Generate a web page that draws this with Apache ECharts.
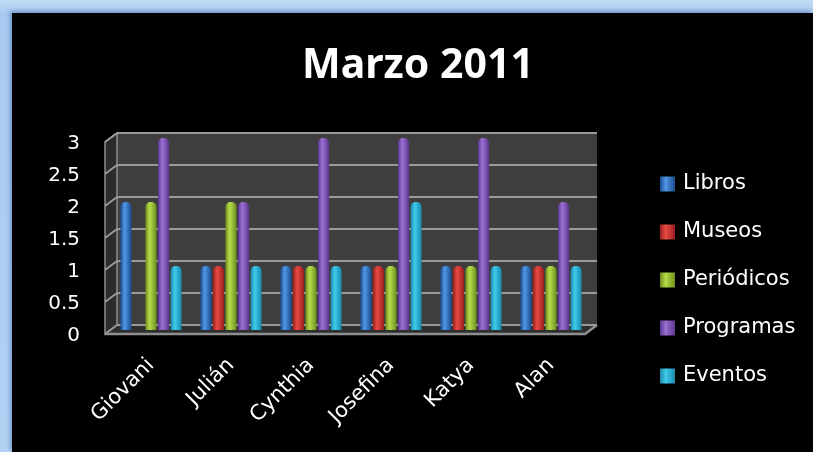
<!DOCTYPE html>
<html>
<head>
<meta charset="utf-8">
<script src="https://cdn.jsdelivr.net/npm/echarts@6/dist/echarts.min.js"></script>
<style>
  html, body { margin: 0; padding: 0; }
  body {
    width: 813px; height: 452px; overflow: hidden; position: relative;
    background: linear-gradient(180deg, #c3dcf7 0px, #a9cbf1 13px, #b3d2f4 100%);
  }
  #panel {
    position: absolute; left: 12px; top: 13px; right: 0; bottom: 0;
    background: #000;
    box-shadow: -2px -2px 4px rgba(60, 100, 160, 0.5);
  }
  #chart { position: absolute; left: 0; top: 0; width: 813px; height: 452px; }
</style>
</head>
<body>
<div id="panel"></div>
<div id="chart"></div>
<script>
// Monthly activity per person, March 2011
const categories = ['Giovani', 'Julián', 'Cynthia', 'Josefina', 'Katya', 'Alan'];
const libros     = [2, 1, 1, 1, 1, 1];
const museos     = [0, 1, 1, 1, 1, 1];
const periodicos = [2, 2, 1, 1, 1, 1];
const programas  = [3, 2, 3, 3, 3, 2];
const eventos    = [1, 1, 1, 2, 1, 1];
const yTicks     = [0, 0.5, 1, 1.5, 2, 2.5, 3];

// Plot frame (mid-depth plane where the bars stand)
const GRID = { left: 111, top: 138, width: 480, height: 192 };
// Pseudo-3D depth offsets for back wall and front edge
const BACK = { dx: 6, dy: -5 };
const FRONT = { dx: -6, dy: 4 };
const FONT = 'DejaVu Sans';

function cylinder(dark, light) {
  return new echarts.graphic.LinearGradient(0, 0, 1, 0, [
    { offset: 0, color: dark },
    { offset: 0.38, color: light },
    { offset: 1, color: dark }
  ]);
}

const seriesDefs = [
  { name: 'Libros',     data: libros,     dark: '#1c4c8e', light: '#4f97e6' },
  { name: 'Museos',     data: museos,     dark: '#9a1e1e', light: '#e84a44' },
  { name: 'Periódicos', data: periodicos, dark: '#6f8f1c', light: '#b6dc4a' },
  { name: 'Programas',  data: programas,  dark: '#5a3790', light: '#9c70d4' },
  { name: 'Eventos',    data: eventos,    dark: '#1b87a8', light: '#3fcbee' }
];

const chart = echarts.init(document.getElementById('chart'), null, { renderer: 'canvas' });

const option = {
  backgroundColor: 'transparent',
  animation: false,
  title: {
    text: 'Marzo 2011',
    left: 413,
    top: 41,
    textAlign: 'center',
    textStyle: { color: '#ffffff', fontFamily: 'Noto Sans', fontWeight: 'bold', fontSize: 41 }
  },
  legend: {
    orient: 'vertical',
    left: 660,
    top: 172,
    padding: 0,
    icon: 'rect',
    itemWidth: 15,
    itemHeight: 15,
    itemGap: 24,
    textStyle: { color: '#ffffff', fontFamily: FONT, fontSize: 21, lineHeight: 24, padding: [0, 0, 0, 3] },
    data: seriesDefs.map(s => s.name)
  },
  grid: Object.assign({}, GRID, { containLabel: false }),
  xAxis: {
    type: 'category',
    data: categories,
    axisLine: { show: false },
    axisTick: { show: false },
    axisLabel: {
      color: '#ffffff', fontFamily: FONT, fontSize: 21, rotate: 45, margin: 32, interval: 0
    }
  },
  yAxis: {
    type: 'value',
    min: 0, max: 3, interval: 0.5,
    axisLine: { show: false },
    axisTick: { show: false },
    splitLine: { show: false },
    axisLabel: {
      color: '#ffffff', fontFamily: FONT, fontSize: 20, margin: 31,
      verticalAlign: 'top', lineHeight: 11
    }
  },
  series: seriesDefs.map(s => ({
    name: s.name,
    type: 'bar',
    data: s.data,
    barWidth: 11,
    barGap: '14%',
    z: 5,
    itemStyle: { color: cylinder(s.dark, s.light), borderRadius: [5, 5, 0, 0] }
  }))
};

chart.setOption(option);

// Walls, floor and gridlines drawn around the bars to give the box its depth
function drawBox() {
  const L = GRID.left, R = GRID.left + GRID.width;
  const yOf = v => chart.convertToPixel({ yAxisIndex: 0 }, v);
  const y0 = yOf(0), yTop = yOf(3);
  const els = [];
  // back wall
  els.push({
    type: 'polygon', z: 0, silent: true,
    shape: { points: [[L + BACK.dx, yTop + BACK.dy], [R + BACK.dx, yTop + BACK.dy], [R + BACK.dx, y0 + BACK.dy], [L + BACK.dx, y0 + BACK.dy]] },
    style: { fill: '#3e3e3e' }
  });
  // left wall
  els.push({
    type: 'polygon', z: 0, silent: true,
    shape: { points: [[L + FRONT.dx, yTop + FRONT.dy], [L + BACK.dx, yTop + BACK.dy], [L + BACK.dx, y0 + BACK.dy], [L + FRONT.dx, y0 + FRONT.dy]] },
    style: { fill: '#2b2b2b', stroke: '#8f8f8f', lineWidth: 1.5 }
  });
  // floor
  els.push({
    type: 'polygon', z: 1, silent: true,
    shape: { points: [[L + FRONT.dx, y0 + FRONT.dy], [R + FRONT.dx, y0 + FRONT.dy], [R + BACK.dx, y0 + BACK.dy], [L + BACK.dx, y0 + BACK.dy]] },
    style: { fill: '#2e2e2e' }
  });
  // gridlines on back wall + left wall diagonals
  yTicks.forEach(v => {
    const y = yOf(v);
    els.push({
      type: 'line', z: 1, silent: true,
      shape: { x1: L + BACK.dx, y1: y + BACK.dy, x2: R + BACK.dx, y2: y + BACK.dy },
      style: { stroke: '#9a9a9a', lineWidth: 2 }
    });
    els.push({
      type: 'line', z: 1, silent: true,
      shape: { x1: L + FRONT.dx, y1: y + FRONT.dy, x2: L + BACK.dx, y2: y + BACK.dy },
      style: { stroke: '#9a9a9a', lineWidth: 2 }
    });
  });
  // floor front and right edges (drawn above bars' bases)
  els.push({
    type: 'polyline', z: 6, silent: true,
    shape: { points: [[L + FRONT.dx, y0 + FRONT.dy], [R + FRONT.dx, y0 + FRONT.dy], [R + BACK.dx, y0 + BACK.dy]] },
    style: { stroke: '#8f8f8f', lineWidth: 2.5, fill: null }
  });
  chart.setOption({ graphic: { elements: els } });
}
drawBox();
</script>
</body>
</html>
